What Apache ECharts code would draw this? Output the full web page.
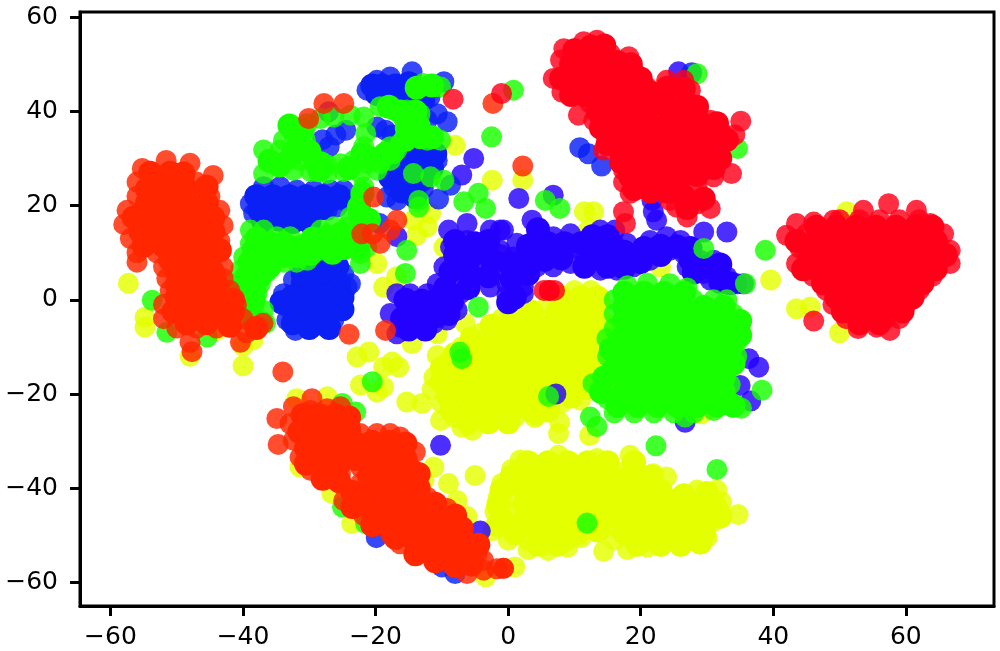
<!DOCTYPE html>
<html><head><meta charset="utf-8">
<style>html,body{margin:0;padding:0;background:#fff;overflow:hidden}#c{width:1000px;height:651px;filter:blur(0.6px)}</style>
<script src="https://cdn.jsdelivr.net/npm/echarts@6/dist/echarts.min.js"></script>
</head><body><div id="c"></div>
<script>
const xTicks=[-60,-40,-20,0,20,40,60];
const yTicks=[-60,-40,-20,0,20,40,60];
const yellow=[[-57.3,3.5],[-54.8,-3.7],[-54.8,-5.8],[-48,-12],[-40,-14],[-44,-6.5],[-40,-9.8],[-38.5,-8.5],
[-8,32.8],[-2.4,25.4],[-11.7,18.3],[-14.3,16.9],[-12.2,15.5],[-13.8,13.7],[-9.7,11.2],[-19.8,7.7],[-18.8,2.7],[-16.8,4.9],[-6.5,-5],
[11.5,18.7],[12.9,18.7],[2.2,25.4],[39.6,4.2],[43.5,-1.9],[45.6,-1.5],[50,-7],[51.1,18.7],[12.1,14.8],[23,7],
[10.9,-21.3],[7.75,-26],[7.6,-28.4],[12.3,-28.8],[4.3,-24.5],[29.2,-24.2],[1,-56.7],[14.4,-53.4],[34.7,-45.6],
[-22.8,-12.1],[-21,-11.1],[-17.5,-13.2],[-18.8,-14.3],[-16.5,-14.3],[-22.3,-18.1],[-19.8,-19.6],[-18.8,-18.5],[-14.5,-9.3],[-10.7,-7.2],[-5.7,-7.9],
[-31.9,-21],[-27.3,-20.6],[-31.4,-35.5],[-26.6,-41.1],[-23.6,-47.5],[-12.7,-38.3],[-11.2,-35.5],[-3.4,-58.8],
[-5,-37.3],[-9,-39],[-6.2,-46],[-7.7,-42.6],[-2.3,-49],
[10,2],[12.5,2],[6,-1],[9,-1],[12,-1],[14,-1],[-1,-4],[2,-4],[5,-4],[8,-4],[11,-4],[14,-4],
[-4,-7],[-1,-7],[2,-7],[5,-7],[8,-7],[11,-7],[14,-7],[-7,-10],[-4,-10],[-1,-10],[2,-10],[5,-10],[8,-10],[11,-10],[14,-10],
[-9,-13],[-6,-13],[-3,-13],[0,-13],[3,-13],[6,-13],[9,-13],[12,-13],[14,-13],
[-11.2,-16.4],[-8,-16],[-5,-16],[-2,-16],[1,-16],[4,-16],[7,-16],[10,-16],[13,-16],
[-11.5,-19],[-8,-19],[-5,-19],[-2,-19],[1,-19],[4,-19],[7,-19],[10,-19],[12,-19],
[-15.3,-21.7],[-13,-22],[-10,-22],[-7,-22],[-4,-22],[-1,-22],[2,-22],[5,-22],[8,-22],
[-10.2,-25.6],[-8,-25],[-5,-25],[-2,-25],[1,-25],[4,-25],[-7,-27],[-5.4,-27.7],[-10.7,-11.8],
[7.6,-33],[18.4,-33],[13.4,-33.7],[1.8,-34],[0.5,-36],[3,-36],[6,-36],[9,-36],[12,-36],[15,-36],[18,-36],[21.9,-36.9],
[-1,-39],[2,-39],[5,-39],[8,-39],[11,-39],[14,-39],[17,-39],[20,-39],[23.9,-37.6],
[-1.5,-42],[1,-42],[4,-42],[7,-42],[10,-42],[13,-42],[16,-42],[19,-42],[22,-42],[24,-42],[28.5,-40.4],[31.5,-40.4],
[-2,-45],[1,-45],[4,-45],[7,-45],[10,-45],[13,-45],[16,-45],[19,-45],[22,-45],[25,-45],[28,-45],[32.2,-42.9],
[-2,-48],[1,-48],[4,-48],[7,-48],[10,-48],[13,-48],[16,-48],[19,-48],[22,-48],[25,-48],[28,-48],[31,-47],
[0,-51],[3,-51],[6,-51],[9,-51],[11,-50.5],[16,-51],[19,-51],[22,-51],[25,-51],[28,-51],[30,-50.5],
[3,-53],[6,-53.2],[9,-52.5],[18,-53],[21,-52.5]];
const yellowFill=[[8,0.5],[11,0.5],[13.5,0.5],[0.5,-2.5],[3.5,-2.5],[7.5,-2.5],[10.5,-2.5],[13,-2.5],
[-2.5,-5.5],[0.5,-5.5],[3.5,-5.5],[6.5,-5.5],[9.5,-5.5],[12.5,-5.5],[15,-5.5],[-5.5,-8.5],[-2.5,-8.5],[0.5,-8.5],[3.5,-8.5],[6.5,-8.5],[9.5,-8.5],[12.5,-8.5],[15,-8.5],
[-8,-11.5],[-5,-11.5],[-2,-11.5],[1,-11.5],[4,-11.5],[7,-11.5],[10,-11.5],[13,-11.5],[15,-11.5],[-10,-14.5],[-7,-14.5],[-4,-14.5],[-1,-14.5],[2,-14.5],[5,-14.5],[8,-14.5],[11,-14.5],[14,-14.5],
[-10,-17.5],[-6.5,-17.5],[-3.5,-17.5],[-0.5,-17.5],[2.5,-17.5],[5.5,-17.5],[8.5,-17.5],[11.5,-17.5],[-9,-20.5],[-5.5,-20.5],[-2.5,-20.5],[0.5,-20.5],[3.5,-20.5],[6.5,-20.5],[9.5,-20.5],
[-8.5,-23.5],[-5.5,-23.5],[-2.5,-23.5],[0.5,-23.5],[3.5,-23.5],[6,-23.5],[-6,-26],[-3,-26],[0,-26],
[3,-34.5],[6,-34.5],[9,-34.5],[12,-34.5],[15,-34.5],[19,-34.5],[0.5,-37.5],[3.5,-37.5],[6.5,-37.5],[9.5,-37.5],[12.5,-37.5],[15.5,-37.5],[18.5,-37.5],[21.5,-37.5],
[-1,-40.5],[2.5,-40.5],[5.5,-40.5],[8.5,-40.5],[11.5,-40.5],[14.5,-40.5],[17.5,-40.5],[20.5,-40.5],[23,-40.5],[26.5,-41.5],[30,-41],
[-1.5,-43.5],[2.5,-43.5],[5.5,-43.5],[8.5,-43.5],[11.5,-43.5],[14.5,-43.5],[17.5,-43.5],[20.5,-43.5],[23.5,-43.5],[26.5,-43.5],[29.5,-43.5],[31.5,-44.5],
[-1,-46.5],[2.5,-46.5],[5.5,-46.5],[8.5,-46.5],[11.5,-46.5],[14.5,-46.5],[17.5,-46.5],[20.5,-46.5],[23.5,-46.5],[26.5,-46.5],[29.5,-46.5],[32,-46],
[1,-49.5],[4.5,-49.5],[7.5,-49.5],[10.5,-49.5],[13.5,-49],[17.5,-49.5],[20.5,-49.5],[23.5,-49.5],[26.5,-49.5],[29.5,-49.5],[4.5,-52],[7.5,-52],[19.5,-52],[23,-52],[26,-52],[29,-51.5]];
const indigo=[[-27.1,39.9],[-16.8,13.4],[-5.2,30],[-7,26.5],
[-6.2,16.2],[-9,14.8],[-2.7,14.8],[-1.2,14.8],[-8.7,11.2],[-6.2,12.6],[-3.7,10.5],[-1.2,10.5],[-9.7,7],[-6.7,9.1],[-4.2,7],[-1.7,6.3],
[-10.7,3.4],[-8.2,4.2],[-5.7,4.2],[-2.7,2.7],[-14.8,1.3],[-12.2,1.3],[-9.7,0.6],[-7.2,1.3],[-16.8,1.3],[-17.8,-2.9],[-15.3,-2.2],[-12.8,-1.5],[-10.2,-2.2],[-7.7,-2.2],
[-16.3,-5.8],[-13.8,-5],[-11.2,-5],[-9.2,-4.3],[-16.8,-7.2],
[1.6,21.5],[6.8,22.2],[3.6,16.9],[-0.7,14.8],[1.3,12],[4.3,13.4],[6.8,13.4],[9.4,14],[13.9,14.8],[16.1,14.8],[-1.2,9.6],[0.8,9.1],[3.3,9.8],[5.8,10.5],[8.4,10.5],[10.9,10.5],
[13.4,12],[15.9,12],[17.9,12],[21.4,12.6],[23.9,13.4],[26,12.6],[1.8,6.3],[4.3,7],[6.8,7],[9.4,7.7],[11.9,9.1],[14.4,8.4],[16.9,8.4],[19.4,9.8],[21.9,10.5],[24.4,10.5],[26.5,9.8],
[-0.2,3.4],[2.3,2.7],[2.3,1.3],[-0.2,1],[13.9,6.3],[16.4,6.3],[18.9,7],[21.4,8.4],[29,8.4],[31,8.4],[27,7],[29.5,5.6],[31.5,6.3],[30.5,4.2],[33,4.9],[34.5,3.4],
[29.5,14.4],[33,14.4],[22.4,16.9],[21.7,21.1],[21.9,18.7],[35.5,3.4],[25.7,48.4],
[36.3,-12.5],[37.8,-14.3],[35,-18.2],[36.6,-21.5],[26.7,-26],[7.2,-20],[-10.2,-30.9],[-4.2,-49.1]];
const indigoFill=[[-8,12.5],[-8,9.5],[-5,12],[-3,12.5],[-5.3,9.5],[-2.5,8.5],[0,7.8],[-8.7,6],[-6,6],[-3,5],[-9.5,2.5],[-6,2.5],[-13,-0.2],[-15.5,0],[-11,-0.2],[-8.5,-0.5],[-16,-4],[-13.5,-3.5],[-11,-3.5],[-9,-3],[-15,-6.3],[-12.5,-6.3],
[0.5,4.5],[3,5.5],[5.5,8.5],[2.5,8.5],[8,8.8],[3,11.5],[6,12],[8.5,12],[11,12],[12.7,13.5],[15,13.5],[17.5,10.2],[13,10],[15.5,10],[11.5,7],[15,7],[17.5,6.8],[20,8],[23,9.5],[20.5,11],[23,11.5],[25.5,11.3],[27.5,11],[27.5,8.5],[30,7],[32,7.5],[28,5.8],[32,3.8],[33.5,3.5],[1,0.5],[0,-0.5],[4.5,15]];
const azure=[[-36.9,24],[-34.4,24],[-31.9,23.3],[-29.3,23.3],[-26.8,23.3],[-24.8,23.3],[-38.9,20.4],[-36.4,20.4],[-33.9,20.4],[-31.4,20.4],[-28.8,20.4],[-26.3,21.1],[-24.8,21.1],[-25.8,19.7],
[-38.4,18.3],[-35.9,18.3],[-33.4,17.6],[-31.4,16.9],[-29.3,18.3],[-27.3,19],
[-26.3,8.4],[-28.8,7],[-24.8,5.6],[-32.4,4.2],[-29.8,4.9],[-27.3,4.9],[-23.8,3.4],[-33.9,1.3],[-31.4,2],[-28.8,2],[-26.3,2],[-24.3,2.7],[-33.4,-1.5],[-30.8,-0.8],[-28.3,-0.1],[-26.3,-0.8],[-33.4,-4.3],[-30.8,-4.3],[-28.8,-5.4],[-26.3,-4.3],[-32.1,-6.5],
[-21.3,44.5],[-19.8,46.6],[-17.8,47.3],[-14.5,48.4],[-18.8,43.8],[-16.3,44.5],[-11.8,43],[-13.8,43.8],[-9.7,46.3],[-9.2,37.8],[-10.7,39.5],[-12.2,38.1],
[-18.5,36],[-19.8,36.7],[-17.5,35],[-28,34],[-26,35],[-24.5,36],[-27,32.5],
[-14.8,30.3],[-12.2,30.3],[-10.7,29.6],[-16.3,27.5],[-17.3,24],[-14.8,24],[-16.8,21.1],[-12.8,23.6],[-18.3,21.8],[-10.5,21.4],[-8.7,24.3],[-19.4,16.2],
[10.8,32.3],[12.1,31],[14.1,28.4],[27.7,48.2],[-19.9,-50.5],[-10,-56.7],[-8,-58.1],[-21.5,-34.8]];
const azureFill=[[-38,22],[-35.5,22],[-33,22],[-30.5,22],[-28,22],[-25.5,22],[-37.5,19],[-35,19],[-32.5,19],[-30,19],[-28,19.5],[-34.5,17],[-32.5,16.5],[-30,16.5],[-37,16.8],
[-31,3.4],[-28,3.4],[-25.5,3.4],[-32.5,0.7],[-30,0.5],[-27.5,1],[-25,0.5],[-32,-3],[-29.5,-2.5],[-27.5,-2.5],[-25,-2],[-32.5,-5],[-30,-6],[-27,-6],[-28,6],[-25.8,7],[-31,5.5],[-34.2,-0.5],
[-20.5,45.5],[-19,45.5],[-17,45.5],[-15,46],[-17.5,43.5],[-15,43],[-12.8,42.5],[-19.8,43.7],
[-13.5,28],[-11.5,28],[-15.5,26],[-13,25.5],[-16,23],[-14,21.8],[-17.8,26],[-16,29],[-11,31],[-13.5,31.5]];
const green=[[-53.7,-0.1],[-51.5,-6.9],[-45.4,-7.9],[-50,19],
[-32.4,35.3],[-30.3,37.4],[-28.3,38.5],[-26.3,38.8],[-23.8,39.2],[-21.8,38.8],[-21.5,35.3],[-21.8,32.5],[-33.9,33.9],[-31.9,32.5],[-30.6,33.9],[-36.9,31.8],[-34.4,31.8],[-33.4,29.6],[-31.4,29.6],[-29.3,28.9],[-27.3,28.6],[-25.3,28.9],[-23.3,29.6],[-21.3,28.9],[-19.3,28.9],
[-32.4,27.5],[-29.8,27.2],[-27.3,26.8],[-24.8,27.2],[-22.3,26.8],[-19.8,27.5],[-17.8,29.6],[-16.8,31.8],[-36.9,26.8],
[-21.8,24],[-22.3,21.1],[-22.6,18.3],[-23.8,17.6],[-24.3,15.5],[-26.3,15.5],[-28.3,14.8],[-21.8,15.5],[-21.8,12.6],[-23.8,12.6],
[-38.9,14.8],[-36.9,14.8],[-34.9,13.4],[-32.9,13.4],[-30.8,11.9],[-28.8,12.6],[-26.3,12.6],[-38.9,11.9],[-36.9,11.9],[-34.9,10.5],[-32.9,10.5],[-30.8,9.8],[-28.3,10.5],[-39.9,9.1],[-37.9,9.1],[-35.9,8.4],[-33.9,8],[-31.9,8],[-30.3,8.4],
[-40.4,6.3],[-38.4,6.3],[-36.4,5.9],[-41.4,3.4],[-39.4,3.4],[-37.4,3.4],[-41.9,1.3],[-39.9,0.6],[-37.9,1.3],[-40.4,-1.5],[-38.4,-1.5],[-36.9,-2.2],[-36.9,-4.7],[-22.3,9.8],[-21.3,11.2],[-22.3,7.7],[-36.6,-5],
[-12.8,45.9],[-10.2,45.2],[-19.3,41],[-17.3,40.3],[-15.3,40.3],[-13.3,39.5],[-14.8,37.4],[-14.3,35.3],[-16.3,33.2],[-17.3,31],[-17.8,32.5],[-12.2,33.9],[-10.2,33.9],
[-14.3,26.8],[-11.7,26.1],[-9.7,25.4],[-13.5,19.7],[-13.5,21.1],[-15.3,10.5],[-15.5,5.6],[-4.5,-1.5],[-6.7,20.8],[-4.5,22.6],[-3.4,19.4],[-2.5,34.6],
[29.5,10.9],[38.8,10.5],[35.8,3.4],[5.6,21.1],[7.8,19.4],[0.8,44.5],[34.6,32.1],[28.5,48],
[18,3],[21,3.5],[24.4,3.4],[27,2.5],[16,0],[19,0],[22,0],[25,0],[28,0],[31,0],[33,0],[16,-3],[19,-3],[22,-3],[25,-3],[28,-3],[31,-3],[34,-3],
[16,-6],[19,-6],[22,-6],[25,-6],[28,-6],[31,-6],[34,-6],[14.9,-8.2],[16.5,-9],[19.5,-9],[22.5,-9],[25.5,-9],[28.5,-9],[31.5,-9],[34.5,-9],
[15,-12],[17,-12],[20,-12],[23,-12],[26,-12],[29,-12],[32,-12],[34.5,-12],[15.5,-15],[18,-15],[21,-15],[24,-15],[27,-15],[30,-15],[33,-15],
[12.8,-17.8],[16,-18],[19,-18],[22,-18],[25,-18],[28,-18],[31,-18],[33.5,-18],[15,-21],[18,-21],[21,-21],[24,-21],[27,-21],[30,-21],[33,-21],
[16,-24],[19,-24],[22,-24],[25,-24],[28,-24],[31,-23.5],[35.2,-23],[26.7,-24.9],
[38.3,-19.2],[12.4,-24.9],[13.4,-26.9],[22.3,-31],[31.5,-36],[11.9,-47.4],[6.1,-20.5],[-7.3,-11.1],[-7,-12.5],[-20.5,-17.4],[-23,-23.8],[-25,-22],[-25,-44],[-21.5,-47.5]];
const greenFill=[[17.5,1.5],[20.5,1.5],[23.5,1.5],[26.5,1.5],[17.5,-1.5],[20.5,-1.5],[23.5,-1.5],[26.5,-1.5],[29.5,-1.5],[32.5,-1.5],
[17.5,-4.5],[20.5,-4.5],[23.5,-4.5],[26.5,-4.5],[29.5,-4.5],[32.5,-4.5],[35,-4.5],[17.5,-7.5],[20.5,-7.5],[23.5,-7.5],[26.5,-7.5],[29.5,-7.5],[32.5,-7.5],[35,-7.5],
[15.5,-10.5],[18.5,-10.5],[21.5,-10.5],[24.5,-10.5],[27.5,-10.5],[30.5,-10.5],[33.5,-10.5],[16.5,-13.5],[19.5,-13.5],[22.5,-13.5],[25.5,-13.5],[28.5,-13.5],[31.5,-13.5],[34,-13.5],
[14.5,-16.5],[17.5,-16.5],[20.5,-16.5],[23.5,-16.5],[26.5,-16.5],[29.5,-16.5],[32.5,-16.5],[14,-19.5],[17.5,-19.5],[20.5,-19.5],[23.5,-19.5],[26.5,-19.5],[29.5,-19.5],[32.5,-19.5],
[16.5,-22.5],[19.5,-22.5],[22.5,-22.5],[25.5,-22.5],[28.5,-22.5],[31.5,-22.5],[34,-22.5],
[-33,37],[-31,36],[-32.5,31],[-30,31.5],[-28.3,29],[-24,28],[-28.5,27.5],[-34.5,28.5],[-36,29.5],[-22,31],[-20.5,30],[-18.5,31],
[-22,22.5],[-22.5,19.7],[-21,17],[-23,14],[-25.3,14],[-27.3,13.5],[-29.5,13],
[-37.9,13],[-35.9,12],[-33.9,12],[-31.9,11],[-29.8,11],[-27.3,11],[-24.8,11],[-22.8,11],[-38.4,10.5],[-36.4,10.5],[-33.9,9.3],[-31.9,9.3],[-29.8,9.8],[-26.5,10],[-39,8],[-36.9,7.3],[-36,7],[-39.4,5],[-37.4,5],[-40.4,2.2],[-38.4,2.3],[-40.4,-0.5],[-38.4,0],[-39,-3],
[-18,41],[-16.3,40],[-14,40],[-15.3,36.5],[-13.5,36.8],[-15.5,34],[-13.2,34.5],[-11.5,34.5],[-11.5,45.5],[-13.8,45],[-15.5,38.5]];
const orange=[[-55.2,27.9],[-51.6,29.6],[-48,29],[-44.5,26.4],[-56,25],[-53,25],[-50,25],[-47,25],[-56,22],[-53,22],[-50,22],[-47,22],[-45,22],
[-57.5,19],[-55,19],[-52,19],[-49,19],[-46,19],[-43.5,19],[-58,16],[-55,16],[-52,16],[-49,16],[-46,16],[-43,15.8],[-57,13],[-54,13],[-51,13],[-48,13],[-45,13],[-43.5,12.5],
[-56,10],[-53,10],[-50,10],[-47,10],[-44,10],[-52,7],[-49,7],[-46,7],[-43,7],[-56,8],[-51.5,4.5],[-49,4.5],[-46,4.5],[-43,4.5],[-51,2],[-48,2],[-45,2],[-42,2],
[-52,-1],[-49,-1],[-46,-1],[-43,-1],[-41,-1],[-52,-4],[-49,-4],[-46,-4],[-43,-4],[-40,-4],[-50,-6],[-47,-6],[-44,-6],[-39.5,-7],[-37,-5],[-47.7,-11],[-48,-9],[-40.4,-9],
[-27.8,41.7],[-24.8,41.7],[-30.1,38.5],[-20.3,21.8],[-16.8,16.9],[-19.3,12],[-22.1,14],[-20.5,14],[-17.8,14.8],[-2.3,41.7],[2.2,28.4],
[-24,-7.3],[-34,-15.3],[-18.5,-6.5],
[-29.6,-21],[-32.4,-22.7],[-29.8,-23.5],[-27.3,-23.1],[-25.3,-22.7],[-34.9,-25.2],[-32.9,-26.3],[-30.3,-26.3],[-27.8,-26.3],[-25.3,-26.3],[-34.7,-30.7],
[-32.4,-29.8],[-29.8,-29.8],[-27.3,-29.1],[-24.8,-29.1],[-22.3,-28.4],[-19.8,-28.4],[-17.8,-28.4],[-16.3,-29.1],
[-31.4,-33.4],[-28.8,-33.4],[-26.3,-32.7],[-23.8,-32],[-21.3,-32],[-18.8,-32],[-16.3,-32],[-14,-32.3],
[-29.8,-36.2],[-27.3,-36.5],[-25.3,-36.9],[-22.3,-35.5],[-19.8,-35.5],[-17.3,-35.5],[-14.8,-35.5],[-22.3,-39],[-19.8,-39],[-17.3,-39],[-14.8,-38.3],
[-24.8,-42.6],[-22.3,-42.6],[-19.8,-42.6],[-17.3,-41.9],[-14.8,-41.9],[-12.2,-41.9],[-21.8,-45.8],[-19.3,-46.1],[-16.8,-45.4],[-14.3,-45],[-11.7,-44.7],[-9.2,-44.3],
[-17.8,-49.6],[-15.3,-48.9],[-12.8,-48.2],[-10.2,-48.2],[-8.2,-47.5],[-16.3,-51.8],[-13.7,-52.5],[-11.2,-51.8],[-8.7,-51.1],[-6.7,-50.4],
[-9.2,-55.3],[-6.7,-54.6],[-4.7,-53.9],[-3.7,-55.3],[-6.2,-58.1],[-3.7,-57.4],[-1.7,-57.1],[-0.7,-57],[-0.7,-57]];
const orangeFill=[[-54,27],[-51,27],[-49,26.8],[-54.5,23.5],[-51.5,23.5],[-48.5,23.5],[-45.5,24],[-54.5,20.5],[-51.5,20.5],[-48.5,20.5],[-45.5,20.5],
[-56.5,17.5],[-53.5,17.5],[-50.5,17.5],[-47.5,17.5],[-44.5,17.5],[-55.5,14.5],[-52.5,14.5],[-49.5,14.5],[-46.5,14.5],[-44.5,14.5],[-55,11.5],[-52,11.5],[-49,11.5],[-46,11.5],[-43.5,10.5],
[-51,8.5],[-48,8.5],[-45,8.5],[-50,5.8],[-47.5,5.8],[-44.5,5.8],[-50,3.2],[-47,3.2],[-44,3.2],[-50,0.5],[-47,0.5],[-44,0.5],[-41.5,0],[-50.5,-2.5],[-47.5,-2.5],[-44.5,-2.5],[-41.5,-2.5],[-48.5,-5],[-45.5,-5],[-42,-5.5],[-38,-6],
[-31,-24.5],[-28.5,-24.5],[-26,-24.5],[-24,-25],[-31.5,-28],[-29,-28],[-26.5,-27.8],[-24,-27.5],[-30.5,-31.5],[-28,-31.5],[-25.5,-31],[-23,-30.5],[-20.5,-30.2],[-18,-30.2],[-15.5,-30.5],
[-30.5,-34.8],[-28,-34.8],[-25.5,-34.8],[-23,-33.8],[-20.5,-33.8],[-18,-33.8],[-15.5,-33.8],[-28,-38],[-25.5,-38.5],[-21,-37.3],[-18.5,-37.3],[-16,-37],[-13.5,-37],
[-23.5,-40.8],[-21,-40.8],[-18.5,-40.5],[-16,-40.2],[-13.5,-40],[-23.5,-44],[-21,-44.2],[-18.5,-44],[-16,-43.7],[-13.5,-43.5],[-11,-43.3],[-20.5,-47.8],[-18,-47.8],[-15.5,-47],[-13,-46.5],[-10.5,-46.5],[-8,-45.8],
[-17,-50.5],[-14.5,-50.5],[-12,-50],[-9.5,-49.8],[-7,-48.5],[-14,-54],[-11.5,-53.8],[-9,-53],[-6.5,-52.5],[-4.5,-52],[-8,-56.5],[-5.5,-56.2],[-11,-55.5]];
const crimson=[[-8.3,42.6],[-1,43.8],[6.2,2],[6.2,2],[5.4,2],[7,2],
[13.4,55.1],[11.4,54.8],[8.4,53.3],[7.9,50.9],[10.4,51.6],[12.9,52.3],[15.4,52.3],[18.2,51.6],[6.8,47],[8.1,44.1],[9.4,48],[11.9,48.7],[14.4,48.7],[16.9,48.7],[18.9,48.7],
[10.9,45.2],[13.4,45.2],[15.9,45.2],[18.4,45.9],[20.9,45.2],[23.9,46.6],[26.5,46.6],[27.5,44.5],[10.6,39.2],[12.4,41.7],[14.9,41.7],[17.4,41.7],[19.9,41.7],[22.4,43],[24.9,43],[27.5,41.7],
[12.9,38.1],[15.4,38.1],[17.9,38.1],[20.4,38.1],[22.9,39.5],[25.4,38.8],[28.5,39.5],[30.5,38.1],[14.4,31.8],[14.9,33.9],[16.9,34.6],[19.4,34.6],[21.9,35.3],[24.4,35.3],[27,35.3],[29.5,35.3],[32,36],
[17.4,31],[19.9,31],[22.4,31.8],[24.9,31.8],[27.5,31.8],[30,31.8],[31.5,32.5],[35.1,37.9],[34.2,35],[17.4,27.5],[19.9,27.5],[22.4,27.5],[24.9,27.5],[27.5,28.2],[31,26.1],[33.7,26.8],
[17.4,25],[19.9,24.7],[22.9,24.7],[25.7,23.3],[28.5,24],[25.4,19.7],[27,17.6],[28.5,20.4],[30.5,19.4],[24.4,21.1],[18.4,22.6],[17.4,18.7],[17.7,16.2],
[42,13.7],[43.5,16.2],[46.1,16.5],[49.1,16.9],[53.6,19],[57.4,20.4],[61.6,19],[63.7,16.2],[65.7,14],[66.7,10.5],[66.7,7.7],[43.5,7.7],
[45,14],[48,14],[51,14],[54,14],[57,14],[60,14],[63,14],[44,11],[47,11],[50,11],[53,11],[56,11],[59,11],[62,11],[65,11],[45,8],[48,8],[51,8],[54,8],[57,8],[60,8],[63,8],[65,8],
[50,17],[53,17],[56,17],[59,17],[62,17],[46,5],[49,5],[52,5],[55,5],[58,5],[61,5],[64,5],[48,2],[51,2],[54,2],[57,2],[60,2],[62,2],[49,-1],[52,-1],[55,-1],[58,-1],[60,-1],[51,-4],[54,-4],[57,-4],[59,-4],[46.1,-4.5],[52.8,-6.1],[55.6,-5.8],[57.6,-6.5]];
const crimsonFill=[[10,53],[12.5,53.8],[14.5,54],[9.5,50],[11.5,50.3],[14,50.5],[16.5,50.5],[18.5,50],[8,47],[10.5,47],[13,47],[15.5,47],[18,47.3],[20,47],
[9.5,43.5],[11.5,43.5],[14,43.5],[16.5,43.5],[19,43.5],[21.5,44],[24,45],[26.5,44.8],[13.5,40],[16,40],[18.5,40],[21,40],[24,41],[26,40.5],[28.5,41],
[14,36.5],[16.5,36.3],[19,36.3],[21.5,37],[24,37],[26.5,37],[29,37.5],[31.5,37.5],[15,33],[18,33],[20.5,33],[23,33.5],[25.5,33.5],[28,33.5],[30.5,33.8],[33,34],
[17,29.3],[19.5,29.3],[22,29.5],[24.5,29.5],[27,30],[29.5,30],[32,30],[18.5,26],[21,26],[23.5,26],[26,26],[28.5,26.5],[31,28],[19,23.5],[21.5,23],[24,23],[26.5,22],[27,19.5],[29.5,21.5],
[46.5,15.5],[49.5,15.5],[52.5,15.5],[55.5,15.5],[58.5,15.5],[61.5,15.5],[64,15.5],[43.5,12.5],[46.5,12.5],[49.5,12.5],[52.5,12.5],[55.5,12.5],[58.5,12.5],[61.5,12.5],[64.5,12.5],
[45.5,9.5],[48.5,9.5],[51.5,9.5],[54.5,9.5],[57.5,9.5],[60.5,9.5],[63.5,9.5],[66,9.5],[44.5,6.5],[46.5,6.5],[49.5,6.5],[52.5,6.5],[55.5,6.5],[58.5,6.5],[61.5,6.5],[64.5,6.5],
[47.5,3.5],[50.5,3.5],[53.5,3.5],[56.5,3.5],[59.5,3.5],[62.5,3.5],[49.5,0.5],[52.5,0.5],[55.5,0.5],[58.5,0.5],[61,0.5],[50.5,-2.5],[53.5,-2.5],[56.5,-2.5],[59.5,-2.5],[53,-5],[56,-5]];

const layers=[["yellow",yellow,yellowFill,"#e4ff00"],["indigo",indigo,indigoFill,"#2400ff"],["azure",azure,azureFill,"#0a20f5"],["green",green,greenFill,"#18ff00"],["orange",orange,orangeFill,"#ff2600"],["crimson",crimson,crimsonFill,"#ff0018"]];
const minusFix=v=>String(v).replace("-","\u2212");
const font={fontFamily:"DejaVu Sans",fontSize:25,color:"#000"};
const chart=echarts.init(document.getElementById("c"),null,{renderer:"canvas"});
const series=[];
layers.forEach(l=>{
  series.push({type:"scatter",name:l[0],data:l[1],symbolSize:21,itemStyle:{color:l[3],opacity:0.82}});
  series.push({type:"scatter",name:l[0]+" dense",data:l[2],symbolSize:24,itemStyle:{color:l[3],opacity:1}});
});
chart.setOption({
  animation:false,
  grid:{left:80,right:6,top:12,bottom:45,show:true,borderColor:"#000",borderWidth:3,backgroundColor:"#fff"},
  xAxis:{type:"value",min:-64.6,max:73.3,splitLine:{show:false},
    axisLine:{show:true,onZero:false,lineStyle:{color:"#000",width:3}},
    axisTick:{show:true,length:10,lineStyle:{color:"#000",width:3},customValues:xTicks},
    axisLabel:Object.assign({margin:19,customValues:xTicks,formatter:minusFix},font)},
  yAxis:{type:"value",min:-65,max:61.1,splitLine:{show:false},
    axisLine:{show:true,onZero:false,lineStyle:{color:"#000",width:3}},
    axisTick:{show:true,length:10,lineStyle:{color:"#000",width:3},customValues:yTicks},
    axisLabel:Object.assign({margin:22,customValues:yTicks,formatter:minusFix},font)},
  series:series
});
</script></body></html>
